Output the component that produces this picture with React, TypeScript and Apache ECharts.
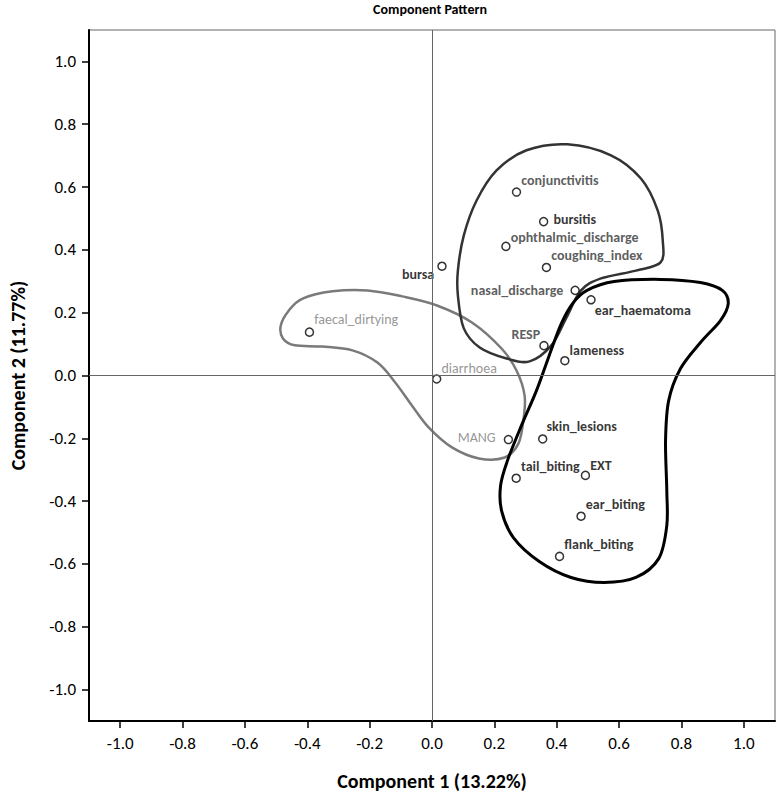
import React, { useEffect, useRef } from "react";
import * as echarts from "echarts";

const variableNames = [
  "faecal_dirtying", "bursa", "conjunctivitis", "bursitis", "ophthalmic_discharge",
  "coughing_index", "nasal_discharge", "ear_haematoma", "RESP", "lameness",
  "diarrhoea", "skin_lesions", "MANG", "tail_biting", "EXT", "ear_biting", "flank_biting",
];
const component1 = [
  -0.393, 0.032, 0.271, 0.358, 0.237,
  0.367, 0.459, 0.51, 0.359, 0.426,
  0.015, 0.355, 0.245, 0.27, 0.492, 0.478, 0.409,
];
const component2 = [
  0.138, 0.348, 0.584, 0.49, 0.411,
  0.344, 0.271, 0.241, 0.095, 0.047,
  -0.011, -0.202, -0.204, -0.327, -0.318, -0.448, -0.576,
];
const labelGroup = [
  "gray", "black", "dark", "black", "dark",
  "dark", "dark", "black", "dark", "black",
  "gray", "black", "gray", "black", "black", "black", "black",
];
const tickValues = [-1.0, -0.8, -0.6, -0.4, -0.2, 0.0, 0.2, 0.4, 0.6, 0.8, 1.0];

// cluster outlines (data space)
const outlineRespiratory: number[][] = [
  [0.434, 0.736], [0.574, 0.701], [0.67, 0.627], [0.724, 0.525], [0.74, 0.43],
  [0.733, 0.36], [0.654, 0.334], [0.542, 0.309], [0.478, 0.271], [0.43, 0.182],
  [0.383, 0.096], [0.313, 0.045], [0.239, 0.054], [0.153, 0.089], [0.102, 0.15],
  [0.083, 0.255], [0.083, 0.334], [0.102, 0.446], [0.143, 0.557], [0.207, 0.653],
  [0.303, 0.717],
];
const outlineBehaviour: number[][] = [
  [0.497, 0.271], [0.584, 0.299], [0.733, 0.306], [0.861, 0.296], [0.931, 0.271],
  [0.95, 0.229], [0.925, 0.175], [0.861, 0.105], [0.797, 0.022], [0.759, -0.08],
  [0.749, -0.207], [0.753, -0.366], [0.753, -0.478], [0.727, -0.583], [0.654, -0.643],
  [0.552, -0.659], [0.446, -0.643], [0.344, -0.592], [0.261, -0.516], [0.223, -0.43],
  [0.22, -0.35], [0.242, -0.271], [0.287, -0.159], [0.335, -0.048], [0.376, 0.064],
  [0.415, 0.166], [0.453, 0.232],
];
const outlineEnteric: number[][] = [
  [-0.415, 0.245], [-0.319, 0.268], [-0.207, 0.271], [-0.096, 0.252], [0.016, 0.223],
  [0.128, 0.169], [0.223, 0.086], [0.271, 0.016], [0.297, -0.064], [0.293, -0.143],
  [0.277, -0.217], [0.233, -0.261], [0.15, -0.264], [0.064, -0.229], [-0.01, -0.166],
  [-0.064, -0.096], [-0.118, -0.022], [-0.175, 0.041], [-0.255, 0.08], [-0.351, 0.092],
  [-0.44, 0.096], [-0.478, 0.118], [-0.485, 0.159], [-0.459, 0.207],
];

const outlines = [outlineEnteric, outlineRespiratory, outlineBehaviour];
const outlineStyles = [
  { stroke: "#7a7a7a", lineWidth: 2.5 },
  { stroke: "#333333", lineWidth: 2.5 },
  { stroke: "#000000", lineWidth: 3 },
];

const labelPlacement: Record<string, { pos: string; off: number[] }> = {
  conjunctivitis: { pos: "right", off: [0, -12] },
  bursitis: { pos: "right", off: [5, -2] },
  ophthalmic_discharge: { pos: "right", off: [0, -9] },
  coughing_index: { pos: "right", off: [0, -12] },
  bursa: { pos: "left", off: [-3, 8] },
  nasal_discharge: { pos: "left", off: [-7, 0] },
  ear_haematoma: { pos: "right", off: [-1, 11] },
  RESP: { pos: "left", off: [1, -11] },
  lameness: { pos: "right", off: [0, -10] },
  diarrhoea: { pos: "right", off: [0, -10] },
  skin_lesions: { pos: "right", off: [-1, -12] },
  MANG: { pos: "left", off: [-8, -2] },
  tail_biting: { pos: "right", off: [0, -12] },
  EXT: { pos: "right", off: [0, -10] },
  ear_biting: { pos: "right", off: [0, -12] },
  flank_biting: { pos: "right", off: [0, -12] },
  faecal_dirtying: { pos: "right", off: [0, -13] },
};

const groupColor: Record<string, string> = { black: "#000000", dark: "#333333", gray: "#7a7a7a" };

const FONT = "Carlito, Lato, 'Open Sans', sans-serif";

function closedSplinePath(pts: number[][]): string {
  const n = pts.length;
  let d = `M${pts[0][0]},${pts[0][1]}`;
  for (let i = 0; i < n; i++) {
    const p0 = pts[(i - 1 + n) % n];
    const p1 = pts[i];
    const p2 = pts[(i + 1) % n];
    const p3 = pts[(i + 2) % n];
    const c1x = p1[0] + (p2[0] - p0[0]) / 6;
    const c1y = p1[1] + (p2[1] - p0[1]) / 6;
    const c2x = p2[0] - (p3[0] - p1[0]) / 6;
    const c2y = p2[1] - (p3[1] - p1[1]) / 6;
    d += ` C${c1x},${c1y} ${c2x},${c2y} ${p2[0]},${p2[1]}`;
  }
  return d + " Z";
}

export default function App() {
  const ref = useRef<HTMLDivElement>(null);
  useEffect(() => {
    document.body.style.margin = "0";
    if (!ref.current) return;
    const chart = echarts.init(ref.current, null, { renderer: "svg" });

    const points = variableNames.map((name, i) => {
      const lp = labelPlacement[name];
      const grp = labelGroup[i];
      return {
        name,
        value: [component1[i], component2[i]],
        label: {
          show: true,
          formatter: name,
          position: lp.pos,
          distance: 0,
          offset: lp.off,
          color: groupColor[grp],
          fontWeight: grp === "gray" ? "normal" : "bold",
          fontSize: 14,
          lineHeight: 14,
          fontFamily: FONT,
        },
      };
    });

    const option: any = {
      animation: false,
      backgroundColor: "#ffffff",
      graphic: [
        {
          type: "text",
          x: 430,
          y: 2,
          style: {
            text: "Component Pattern",
            textAlign: "center",
            fill: "#000",
            font: `bold 14px ${FONT}`,
          },
        },
      ],
      grid: {
        left: 85,
        right: 3,
        top: 30,
        bottom: 75,
        show: true,
        borderColor: "#666",
        borderWidth: 1,
      },
      xAxis: {
        type: "value",
        min: -1.1,
        max: 1.1,
        name: "Component 1 (13.22%)",
        nameLocation: "middle",
        nameGap: 50,
        nameTextStyle: { fontFamily: FONT, fontWeight: "bold", fontSize: 20, color: "#000" },
        axisLine: { show: true, onZero: false, lineStyle: { color: "#000", width: 2 } },
        axisTick: { show: true, inside: false, length: 7, customValues: tickValues, lineStyle: { color: "#000", width: 1.5 } },
        axisLabel: {
          customValues: tickValues,
          formatter: (v: number) => v.toFixed(1),
          margin: 14,
          fontFamily: FONT,
          fontSize: 17,
          color: "#000",
        },
        splitLine: { show: false },
      },
      yAxis: {
        type: "value",
        min: -1.1,
        max: 1.1,
        name: "Component 2 (11.77%)",
        nameLocation: "middle",
        nameGap: 61,
        nameTextStyle: { fontFamily: FONT, fontWeight: "bold", fontSize: 20, color: "#000" },
        axisLine: { show: true, onZero: false, lineStyle: { color: "#000", width: 2 } },
        axisTick: { show: true, inside: false, length: 7, customValues: tickValues, lineStyle: { color: "#000", width: 1.5 } },
        axisLabel: {
          customValues: tickValues,
          formatter: (v: number) => v.toFixed(1),
          margin: 13,
          fontFamily: FONT,
          fontSize: 17,
          color: "#000",
        },
        splitLine: { show: false },
      },
      series: [
        {
          type: "custom",
          coordinateSystem: "cartesian2d",
          silent: true,
          z: 1,
          data: outlines.map((_, i) => [0, 0, i]),
          encode: { x: 0, y: 1 },
          renderItem: (params: any, api: any) => {
            const idx = params.dataIndex;
            const pix = outlines[idx].map((p) => api.coord(p));
            return {
              type: "path",
              shape: { pathData: closedSplinePath(pix) },
              style: { fill: "none", stroke: outlineStyles[idx].stroke, lineWidth: outlineStyles[idx].lineWidth },
            };
          },
        },
        {
          type: "scatter",
          z: 3,
          symbol: "circle",
          symbolSize: 8,
          itemStyle: { color: "#ffffff", borderColor: "#000", borderWidth: 1.5 },
          data: points,
          markLine: {
            silent: true,
            symbol: "none",
            label: { show: false },
            lineStyle: { color: "#666", width: 1, type: "solid" },
            data: [{ xAxis: 0 }, { yAxis: 0 }],
          },
        },
      ],
    };
    chart.setOption(option);
    return () => chart.dispose();
  }, []);
  return <div ref={ref} style={{ width: 778, height: 796 }} />;
}
